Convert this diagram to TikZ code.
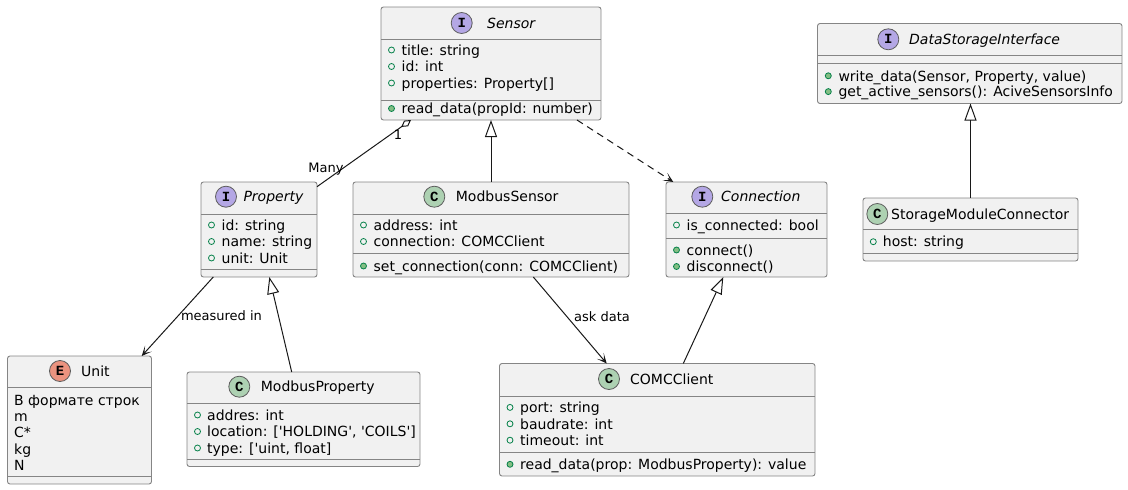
\documentclass[tikz,border=0pt]{standalone}
\usepackage{fontspec}
\usetikzlibrary{arrows.meta,calc}
\newfontfamily\umlfont{DejaVu Sans}[ItalicFont={DejaVu Sans Oblique}]
\newfontfamily\umlicon{Liberation Mono}
\definecolor{umlline}{HTML}{181818}
\definecolor{umlborder}{HTML}{858585}
\definecolor{umlfill}{HTML}{F1F1F1}
\definecolor{ifacecol}{HTML}{B4A7E5}
\definecolor{classcol}{HTML}{ADD1B2}
\definecolor{enumcol}{HTML}{EB937F}
\definecolor{visline}{HTML}{038048}
\definecolor{visfill}{HTML}{84BE84}
\begin{document}
\begin{tikzpicture}[x=1pt,y=-1pt,
    classbox/.style={draw=umlborder, fill=umlfill, line width=0.9pt, rounded corners=2.5pt, inner sep=0pt, outer sep=0pt},
    sepline/.style={draw=umlborder, line width=0.9pt},
    icon/.style={circle, draw=umlline!70, line width=0.8pt, minimum size=21pt, inner sep=0pt, font=\umlicon\bfseries\fontsize{14}{14}\selectfont},
    clsname/.style={anchor=west, inner sep=0pt, font=\umlfont\fontsize{14}{16}\selectfont, text height=10.5pt, text depth=0pt},
    member/.style={anchor=west, inner sep=0pt, font=\umlfont\fontsize{14}{16}\selectfont, text height=10.5pt, text depth=0pt},
    attrdot/.style={draw=visline, line width=0.8pt},
    methdot/.style={draw=visline, fill=visfill, line width=0.8pt},
    rel/.style={draw=umlline, line width=1pt},
    openhead/.style={rel, -{Stealth[length=10pt,width=9pt,inset=6pt]}},
    inherit/.style={rel, -{Triangle[open,length=17pt,width=12pt]}},
    lbl/.style={inner sep=0pt, font=\umlfont\fontsize{13}{15}\selectfont}]
    \useasboundingbox (0,0) rectangle (1128,490);

    % Sensor
    \node[classbox, minimum width=220pt, minimum height=113pt] (sensor) at (491,63.5) {};
    \draw[sepline] (381,39) -- (601,39);
    \draw[sepline] (381,100) -- (601,100);
    \node[icon, fill=ifacecol] (sensoricon) at (461.7,23) {I};
    \node[clsname] (sensorname) at (487,23) {\itshape Sensor};
    \foreach \t [count=\i] in {title: string, id: int, {properties: Property[]}} {
        \draw[attrdot] (391.5,{33.5+16.5*\i}) circle (3pt);
        \node[member] (sensora\i) at (401.5,{33.5+16.5*\i}) {\t};
    }
    \draw[methdot] (391.5,108.5) circle (3pt);
    \node[member] (sensorm1) at (401.5,108.5) {read\_data(propId: number)};

    % Property
    \node[classbox, minimum width=116pt, minimum height=95pt] (property) at (259,229.5) {};
    \draw[sepline] (201,214) -- (317,214);
    \draw[sepline] (201,269) -- (317,269);
    \node[icon, fill=ifacecol] (propertyicon) at (226,196.7) {I};
    \node[clsname] (propertyname) at (243.3,196.7) {\itshape Property};
    \foreach \t [count=\i] in {id: string, name: string, unit: Unit} {
        \draw[attrdot] (211.5,{208.5+16.5*\i}) circle (3pt);
        \node[member] (propertya\i) at (221.5,{208.5+16.5*\i}) {\t};
    }

    % ModbusSensor
    \node[classbox, minimum width=276pt, minimum height=95pt] (modbussensor) at (491,229.5) {};
    \draw[sepline] (353,214) -- (629,214);
    \draw[sepline] (353,253.5) -- (629,253.5);
    \node[icon, fill=classcol] (modbussensoricon) at (434.3,196.7) {C};
    \node[clsname] (modbussensorname) at (455.7,196.7) {ModbusSensor};
    \foreach \t [count=\i] in {address: int, connection: COMCClient} {
        \draw[attrdot] (363.5,{208.5+16.5*\i}) circle (3pt);
        \node[member] (modbussensora\i) at (373.5,{208.5+16.5*\i}) {\t};
    }
    \draw[methdot] (363.5,266) circle (3pt);
    \node[member] (modbussensorm1) at (373.5,266) {set\_connection(conn: COMCClient)};

    % Connection
    \node[classbox, minimum width=161pt, minimum height=95pt] (connection) at (746.5,229.5) {};
    \draw[sepline] (666,213.5) -- (827,213.5);
    \draw[sepline] (666,238) -- (827,238);
    \node[icon, fill=ifacecol] (connectionicon) at (702.3,196.7) {I};
    \node[clsname] (connectionname) at (721,196.7) {\itshape Connection};
    \draw[attrdot] (676.5,225) circle (3pt);
    \node[member] (connectiona1) at (686.5,225) {is\_connected: bool};
    \foreach \t [count=\i] in {connect(), disconnect()} {
        \draw[methdot] (676.5,{233.5+16.5*\i}) circle (3pt);
        \node[member] (connectionm\i) at (686.5,{233.5+16.5*\i}) {\t};
    }

    % COMCClient
    \node[classbox, minimum width=315.5pt, minimum height=112.5pt] (comcclient) at (657.25,419.75) {};
    \draw[sepline] (499.5,396) -- (815,396);
    \draw[sepline] (499.5,452) -- (815,452);
    \node[icon, fill=classcol] (comcclienticon) at (609,379) {C};
    \node[clsname] (comcclientname) at (630,379) {COMCClient};
    \foreach \t [count=\i] in {port: string, baudrate: int, timeout: int} {
        \draw[attrdot] (510,{391+16.4*\i}) circle (3pt);
        \node[member] (comcclienta\i) at (520,{391+16.4*\i}) {\t};
    }
    \draw[methdot] (510,464.3) circle (3pt);
    \node[member] (comcclientm1) at (520,464.3) {read\_data(prop: ModbusProperty): value};

    % Unit
    \node[classbox, minimum width=144pt, minimum height=128pt] (unit) at (79.5,420) {};
    \draw[sepline] (7.5,387.5) -- (151.5,387.5);
    \draw[sepline] (7.5,476.5) -- (151.5,476.5);
    \node[icon, fill=enumcol] (uniticon) at (60,371) {E};
    \node[clsname] (unitname) at (81,371) {Unit};
    \foreach \t [count=\i] in {В формате строк, m, C*, kg, N} {
        \node[member] (unitv\i) at (14,{383.75+16.25*\i}) {\t};
    }

    % ModbusProperty
    \node[classbox, minimum width=233pt, minimum height=94.5pt] (modbusproperty) at (303.5,419.25) {};
    \draw[sepline] (187,403.5) -- (420,403.5);
    \draw[sepline] (187,459) -- (420,459);
    \node[icon, fill=classcol] (modbuspropertyicon) at (239.3,386.7) {C};
    \node[clsname] (modbuspropertyname) at (260.7,386.7) {ModbusProperty};
    \foreach \t [count=\i] in {addres: int, {location: ['HOLDING', 'COILS']}, {type: ['uint, float]}} {
        \draw[attrdot] (197.5,{398.5+16.5*\i}) circle (3pt);
        \node[member] (modbuspropertya\i) at (207,{398.5+16.5*\i}) {\t};
    }

    % DataStorageInterface
    \node[classbox, minimum width=304.5pt, minimum height=80pt] (datastorage) at (969.75,63.5) {};
    \draw[sepline] (817.5,55.5) -- (1122,55.5);
    \draw[sepline] (817.5,63.5) -- (1122,63.5);
    \node[icon, fill=ifacecol] (datastorageicon) at (888.3,39.3) {I};
    \node[clsname] (datastoragename) at (909,39.3) {\itshape DataStorageInterface};
    \foreach \t [count=\i] in {{write\_data(Sensor, Property, value)}, get\_active\_sensors(): AciveSensorsInfo} {
        \draw[methdot] (828.3,{60+15.8*\i}) circle (3pt);
        \node[member] (datastoragem\i) at (838.3,{60+15.8*\i}) {\t};
    }

    % StorageModuleConnector
    \node[classbox, minimum width=215pt, minimum height=63pt] (storagemodule) at (970.5,229.5) {};
    \draw[sepline] (863,229.5) -- (1078,229.5);
    \draw[sepline] (863,253.5) -- (1078,253.5);
    \node[icon, fill=classcol] (storagemoduleicon) at (877.3,214) {C};
    \node[clsname] (storagemodulename) at (891,214) {StorageModuleConnector};
    \draw[attrdot] (873.3,241.7) circle (3pt);
    \node[member] (storagemodulea1) at (882.7,241.7) {host: string};

    % relations
    \draw[rel, {Diamond[open,length=12pt,width=7pt]}-] ($(sensor.south west)+(30,0)$) -- ($(property.north east)+(0,4.7)$);
    \node[lbl] (aggone) at (398,135) {1};
    \node[lbl] (aggmany) at (326,169) {Many};
    \draw[inherit] (modbussensor.north) -- (sensor.south);
    \draw[openhead, dash pattern=on 7pt off 5pt] ($(sensor.south east)+(-24,0)$) -- ($(connection.north west)+(7.3,0)$);
    \draw[openhead] ($(property.south west)+(12.3,0)$) -- ($(unit.north east)+(-9.8,0)$);
    \node[lbl] (measured) at (221.5,316) {measured in};
    \draw[inherit] ($(modbusproperty.north west)+(104.7,0)$) -- ($(property.south west)+(68.3,0)$);
    \draw[openhead] ($(modbussensor.south west)+(180.3,0)$) -- ($(comcclient.north west)+(107.2,0)$);
    \node[lbl] (askdata) at (602,316.7) {ask data};
    \draw[inherit] ($(comcclient.north west)+(183.8,0)$) -- ($(connection.south west)+(57.3,0)$);
    \draw[inherit] (storagemodule.north) -- (storagemodule.north |- datastorage.south);
\end{tikzpicture}
\end{document}
